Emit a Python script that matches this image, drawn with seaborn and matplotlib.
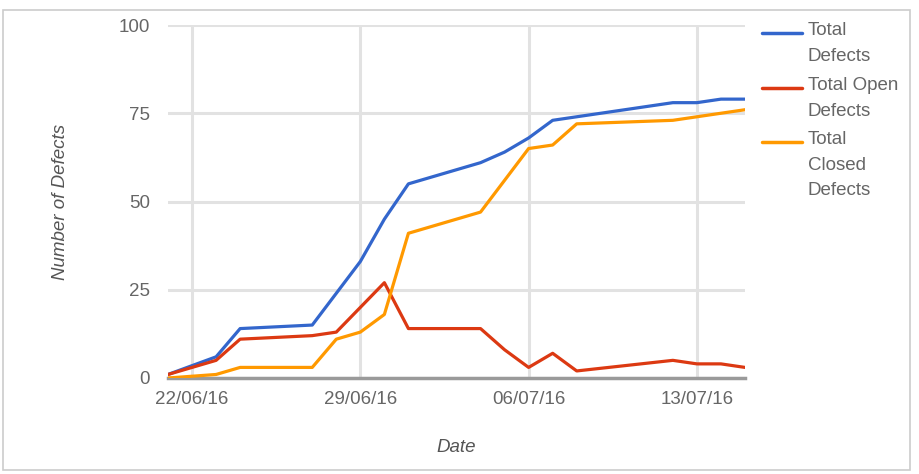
import matplotlib
matplotlib.use("Agg")
import matplotlib.pyplot as plt
import seaborn as sns
import pandas as pd
from matplotlib.lines import Line2D
from matplotlib.patches import Rectangle

dates = ["2016-06-21", "2016-06-23", "2016-06-24", "2016-06-27", "2016-06-28",
         "2016-06-29", "2016-06-30", "2016-07-01", "2016-07-04", "2016-07-05",
         "2016-07-06", "2016-07-07", "2016-07-08", "2016-07-12", "2016-07-13",
         "2016-07-14", "2016-07-15"]
total_defects = [1, 6, 14, 15, 24, 33, 45, 55, 61, 64, 68, 73, 74, 78, 78, 79, 79]
open_defects = [1, 5, 11, 12, 13, 20, 27, 14, 14, 8, 3, 7, 2, 5, 4, 4, 3]
closed_defects = [0, 1, 3, 3, 11, 13, 18, 41, 47, 56, 65, 66, 72, 73, 74, 75, 76]

series_names = ["Total Defects", "Total Open Defects", "Total Closed Defects"]
legend_labels = ["Total\nDefects", "Total Open\nDefects", "Total\nClosed\nDefects"]
colors = ["#3366cc", "#dc3912", "#ff9900"]

tick_dates = ["2016-06-22", "2016-06-29", "2016-07-06", "2016-07-13"]
tick_labels = ["22/06/16", "29/06/16", "06/07/16", "13/07/16"]
y_ticks = [0, 25, 50, 75, 100]

df = pd.DataFrame({
    "Date": pd.to_datetime(dates * 3),
    "Value": total_defects + open_defects + closed_defects,
    "Series": sum([[n] * len(dates) for n in series_names], []),
})

sns.set_theme(style="white")
plt.rcParams["font.family"] = ["Liberation Sans", "DejaVu Sans"]

fig = plt.figure(figsize=(9.2, 4.74), dpi=100)
ax = fig.add_axes([168 / 920, 1 - 378 / 474, 577 / 920, 353 / 474])

sns.lineplot(data=df, x="Date", y="Value", hue="Series", hue_order=series_names,
             palette=colors, linewidth=2.3, legend=False, ax=ax, zorder=3)

ax.set_xlim(pd.Timestamp(dates[0]), pd.Timestamp(dates[-1]))
ax.set_ylim(0, 100)
ax.set_yticks(y_ticks)
ax.set_yticklabels([str(v) for v in y_ticks])
ax.set_xticks(pd.to_datetime(tick_dates))
ax.set_xticklabels(tick_labels)

ax.grid(True, color="#e2e2e2", linewidth=2.2, zorder=0)
ax.set_axisbelow(True)
for s in ["top", "right", "left"]:
    ax.spines[s].set_visible(False)
ax.spines["bottom"].set_color("#9a9a9a")
ax.spines["bottom"].set_linewidth(2.5)
ax.spines["bottom"].set_zorder(2)
ax.tick_params(axis="both", length=0, labelsize=13.5, colors="#666666")
ax.tick_params(axis="y", pad=13)
ax.tick_params(axis="x", pad=9.5)

ax.set_xlabel("Date", fontsize=13.5, style="italic", color="#555555", labelpad=22.5)
ax.set_ylabel("Number of Defects", fontsize=13.5, style="italic", color="#555555", labelpad=35.5)

# legend drawn manually (handle aligned with first text line)
handle_y = [33, 88, 142]
for lab, col, hy in zip(legend_labels, colors, handle_y):
    fy = 1 - hy / 474
    fig.add_artist(Line2D([762 / 920, 802 / 920], [fy, fy], color=col, linewidth=2.5,
                          transform=fig.transFigure))
    fig.text(808 / 920, 1 - (hy - 11) / 474, lab, fontsize=13.5, color="#666666",
             va="top", ha="left", linespacing=1.66)

fig.add_artist(Rectangle((3 / 920, 4 / 474), 907 / 920, 460 / 474, fill=False,
                         edgecolor="#cccccc", linewidth=1.2, transform=fig.transFigure))

fig.savefig("out.png", dpi=100)
